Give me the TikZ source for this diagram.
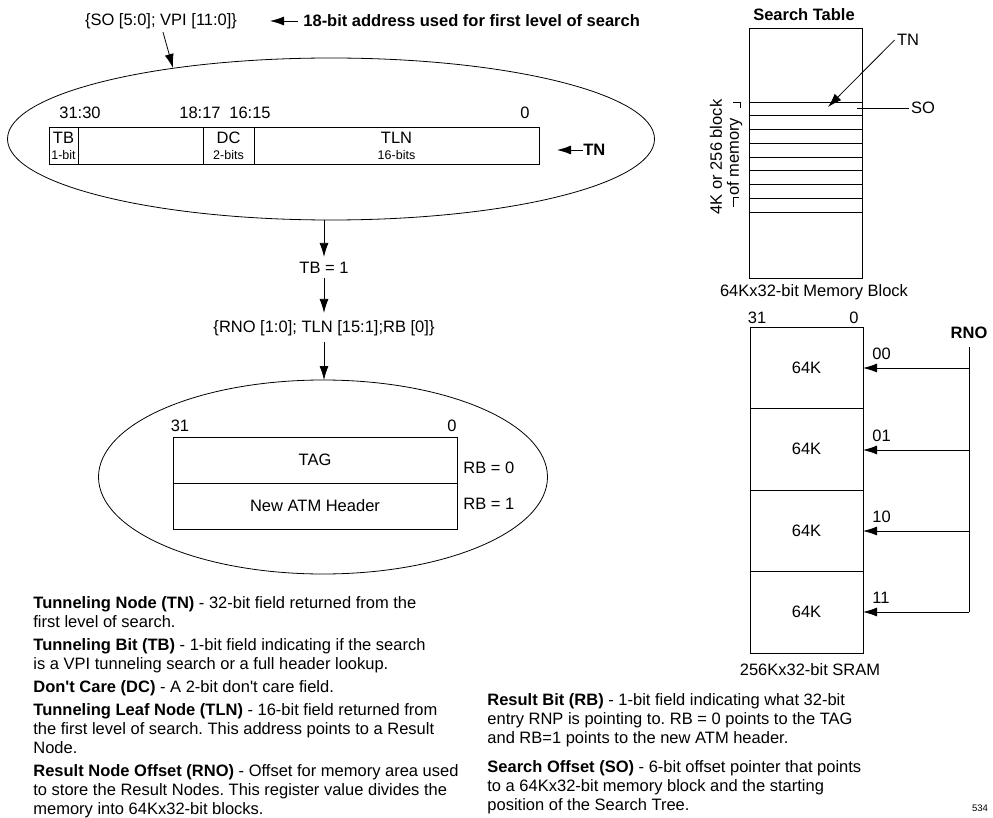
\documentclass[tikz,border=0pt]{standalone}
\usepackage{fontspec}
\setmainfont{Liberation Sans}
\usepackage{tikz}
\usetikzlibrary{arrows.meta}
\usetikzlibrary{positioning,shapes.geometric}
\tikzset{>={Latex[length=14pt,width=9pt]}}

\newcommand\bodysize{\fontsize{16.5}{19}\selectfont}
\newcommand\smallsize{\fontsize{12.5}{14}\selectfont}
\frenchspacing

\begin{document}
\begin{tikzpicture}[x=1pt,y=-1pt,line width=0.8pt,
    every node/.style={font=\bodysize,inner sep=0pt},
    oval/.style={draw,ellipse,inner sep=0pt,outer sep=0pt},
    field/.style={draw,inner sep=0pt,outer sep=0pt,align=center},
    block/.style={draw,minimum width=113pt,minimum height=81.5pt,inner sep=0pt,outer sep=0pt},
    title/.style={font=\bodysize\bfseries}]

	\useasboundingbox (0,0) rectangle (993,818);

	% First level of search
	\node (soaddr) at (161,21) {\{SO [5:0]; VPI [11:0]\}};
	\node[title,anchor=west] (addrnote) at (303,21) {18-bit address used for first level of search};
	\coordinate (addrtip) at (270,21);
	\draw[->,shorten <=5pt] (addrnote.west) -- (addrtip);

	\node[oval,minimum width=647pt,minimum height=162pt] (tnoval) at (331,139) {};
	\coordinate (soentry) at (173,68);
	\draw[->] ([xshift=2pt,yshift=-3pt]soaddr.south) -- (soentry);

	% The TN register
	\node[field,minimum width=29pt,minimum height=37pt,anchor=north west] (tb) at (49,127) {TB\\[-3pt]{\smallsize 1-bit}};
	\node[field,minimum width=125pt,minimum height=37pt,right=0pt of tb] (spare) {};
	\node[field,minimum width=51pt,minimum height=37pt,right=0pt of spare] (dc) {DC\\[-3pt]{\smallsize 2-bits}};
	\node[field,minimum width=285pt,minimum height=37pt,right=0pt of dc] (tln) {TLN\\[-3pt]{\smallsize 16-bits}};

	\node (b31) at (80,113) {31:30};
	\node (b18) at (200,113) {18:17};
	\node (b16) at (250,113) {16:15};
	\node (b0) at (525,113) {0};

	\node[title,anchor=west] (tnnote) at (583,150) {TN};
	\coordinate (tntip) at (557,150);
	\draw[->] (tnnote.west) -- (tntip);

	% Down to the result node
	\node (tbone) at (324,268) {TB = 1};
	\node (rnoaddr) at (324,328) {\{RNO [1:0]; TLN [15:1];RB [0]\}};
	\node[oval,minimum width=449pt,minimum height=194pt] (rboval) at (323,477) {};

	\draw[->,shorten >=5pt] (tnoval.south -| tbone) -- (tbone);
	\draw[->,shorten <=4pt,shorten >=7pt] (tbone) -- (rnoaddr);
	\draw[->,shorten <=6pt] (rnoaddr) -- (rboval.north -| rnoaddr);

	\node[field,minimum width=284pt,minimum height=46pt,anchor=north west] (tag) at (173,437) {TAG};
	\node[field,minimum width=284pt,minimum height=46pt,below=0pt of tag] (atmhdr) {New ATM Header};
	\node (t31) at (180,426) {31};
	\node (t0) at (452,426) {0};
	\node[anchor=west] (rbzero) at (463,468) {RB = 0};
	\node[anchor=west] (rbone) at (463,504) {RB = 1};

	% Search table
	\node[title] (sttitle) at (804,15) {Search Table};
	\node[draw,minimum width=113pt,minimum height=250pt,anchor=north west] (stable) at (749,28) {};
	\foreach \i in {0,...,8} {
	  \draw (749,{102+13.75*\i}) -- (862,{102+13.75*\i});
	}
	\node[rotate=90,align=center,font=\fontsize{16.5}{17}\selectfont] (blocknote) at (726,157) {4K or 256 block\\of memory};
	\draw (733,102) -- (740,102) -- (740,108);
	\draw (733,207) -- (733,197) -- (739,197);

	\node (tntab) at (908,40) {TN};
	\coordinate (tnslot) at (828,107);
	\draw[->] ([xshift=-2pt]tntab.west) -- (tnslot);
	\node (solabel) at (923,108) {SO};
	\coordinate (soslot) at (857,108);
	\draw[shorten <=2pt] (solabel) -- (soslot);
	\node (stcaption) at (814,292) {64Kx32-bit Memory Block};

	% 256K SRAM split by RNO
	\foreach \n in {0,...,3} {
	  \node[block,anchor=north west] (ram\n) at (750,{327+81.5*\n}) {64K};
	}
	\node (r31) at (757,318) {31};
	\node (r0) at (854,318) {0};
	\foreach \n/\code/\y in {0/00/368,1/01/450,2/10/531,3/11/612} {
	  \coordinate (bus\n) at (969,\y);
	  \draw[->] (bus\n) -- (ram\n.east |- bus\n);
	  \node[anchor=west] (code\n) at (872,\y-14) {\code};
	}
	\node[title] (rno) at (969,333) {RNO};
	\draw[shorten <=8pt] (rno) -- (bus3);
	\node (ramcaption) at (810,670) {256Kx32-bit SRAM};

	% Definitions
	\node[align=left,anchor=north west] (leftdefs) at (33,596.5) {\textbf{Tunneling Node (TN)} - 32-bit field returned from the\\
	  first level of search.\\[4pt]
	  \textbf{Tunneling Bit (TB)} - 1-bit field indicating if the search\\
	  is a VPI tunneling search or a full header lookup.\\[4pt]
	  \textbf{Don\textquotesingle t Care (DC)} - A 2-bit don\textquotesingle t care field.\\[4pt]
	  \textbf{Tunneling Leaf Node (TLN)} - 16-bit field returned from\\
	  the first level of search. This address points to a Result\\
	  Node.\\[4pt]
	  \textbf{Result Node Offset (RNO)} - Offset for memory area used\\
	  to store the Result Nodes. This register value divides the\\
	  memory into 64Kx32-bit blocks.};
	\node[align=left,anchor=north west] (rightdefs) at (487,693.5) {\textbf{Result Bit (RB)} - 1-bit field indicating what 32-bit\\
	  entry RNP is pointing to. RB = 0 points to the TAG\\
	  and RB=1 points to the new ATM header.\\[10pt]
	  \textbf{Search Offset (SO)} - 6-bit offset pointer that points\\
	  to a 64Kx32-bit memory block and the starting\\
	  position of the Search Tree.};
	\node[font=\fontsize{9.5}{11}\selectfont] (pageno) at (980,808) {534};
\end{tikzpicture}
\end{document}
